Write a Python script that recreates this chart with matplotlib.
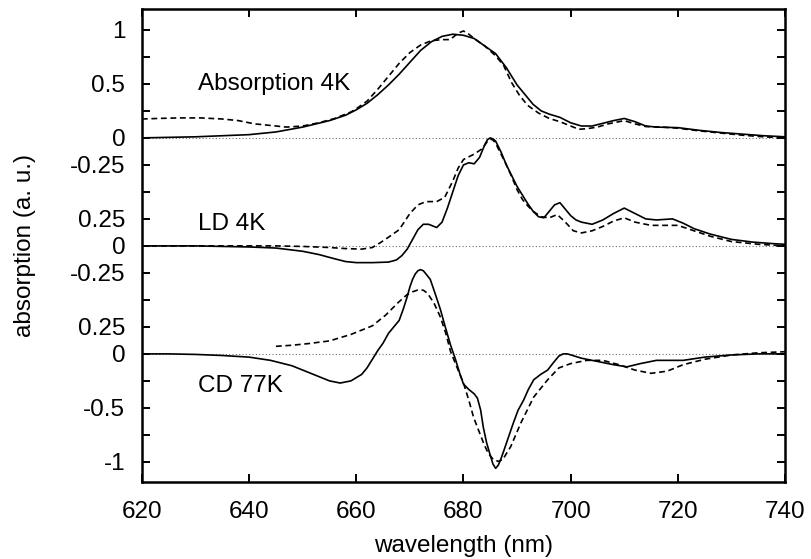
import numpy as np
import matplotlib
matplotlib.use('Agg')
import matplotlib.pyplot as plt

plt.rcParams['font.family'] = ['Liberation Sans', 'DejaVu Sans']

# Absorption 4K
abs_wl = [620, 625, 630, 635, 640, 645, 650, 655, 658, 660, 662, 664, 666, 668, 670,
          672, 674, 676, 678, 680, 682, 684, 686, 688, 689, 690, 691.5, 693, 694.5,
          696, 698, 700, 702, 704, 706, 708, 710, 712, 714, 716, 720, 724, 728, 732,
          736, 740]
abs_solid = [0.0, 0.005, 0.01, 0.02, 0.03, 0.055, 0.10, 0.16, 0.21, 0.26, 0.32, 0.40,
             0.49, 0.59, 0.70, 0.81, 0.89, 0.94, 0.96, 0.95, 0.92, 0.85, 0.78, 0.65,
             0.57, 0.49, 0.40, 0.31, 0.25, 0.22, 0.19, 0.14, 0.11, 0.11, 0.135, 0.16,
             0.18, 0.15, 0.11, 0.10, 0.095, 0.07, 0.05, 0.035, 0.02, 0.01]

abs_wl_d = [620, 623, 627, 631, 635, 638, 641, 644, 647, 650, 653, 656, 659, 660, 662,
            664, 666, 668, 670, 672, 674, 676, 677.5, 679, 680, 681, 682, 684, 686,
            687.5, 689, 690.5, 692, 694, 696, 698, 700, 701.5, 703, 705, 707, 710, 712,
            714, 717, 720, 724, 728, 732, 736, 740]
abs_dash = [0.175, 0.18, 0.185, 0.185, 0.175, 0.16, 0.13, 0.115, 0.10, 0.11, 0.14,
            0.18, 0.24, 0.27, 0.34, 0.45, 0.57, 0.69, 0.79, 0.86, 0.90, 0.91, 0.91,
            0.97, 0.99, 0.96, 0.92, 0.85, 0.76, 0.67, 0.51, 0.39, 0.30, 0.23, 0.18,
            0.15, 0.11, 0.08, 0.085, 0.10, 0.13, 0.16, 0.13, 0.105, 0.10, 0.09, 0.065,
            0.045, 0.025, 0.01, 0.0]

# LD 4K
ld_wl = [620, 625, 630, 635, 640, 645, 650, 653, 656, 658, 660, 663, 666, 667.5, 668.5,
         669.5, 670.5, 671.5, 672.5, 673.5, 675, 676, 677, 678, 679, 680, 681, 682, 683,
         684, 684.5, 685, 685.5, 686, 687, 688, 689, 690, 691, 692, 693, 694, 695, 696,
         697, 698, 699, 700, 701, 702, 704, 706, 708, 710, 712, 714, 716, 719, 721, 723,
         726, 730, 734, 738, 740]
ld_solid = [0.0, 0.0, 0.0, -0.005, -0.01, -0.02, -0.05, -0.08, -0.12, -0.145, -0.155,
            -0.155, -0.15, -0.13, -0.09, -0.03, 0.06, 0.15, 0.20, 0.20, 0.17, 0.22, 0.35,
            0.50, 0.65, 0.75, 0.77, 0.76, 0.82, 0.94, 0.985, 1.0, 0.99, 0.97, 0.87, 0.75,
            0.65, 0.55, 0.47, 0.39, 0.32, 0.27, 0.26, 0.32, 0.38, 0.40, 0.34, 0.28, 0.24,
            0.22, 0.20, 0.24, 0.30, 0.35, 0.30, 0.25, 0.24, 0.25, 0.21, 0.16, 0.11, 0.06,
            0.035, 0.02, 0.015]

ld_wl_d = [620, 630, 640, 645, 650, 655, 658, 661, 663, 664.5, 666, 668, 670, 671.5,
           673, 675, 676.5, 678, 679, 680, 682, 683.5, 684.5, 685, 685.5, 686, 687, 688,
           689, 690, 691, 692, 693, 694.5, 696, 697.5, 699, 700.5, 702, 704, 706, 708,
           710, 712, 715, 720, 723, 726, 730, 735, 740]
ld_dash = [0.0, 0.0, 0.0, 0.0, -0.005, -0.015, -0.025, -0.03, -0.015, 0.03, 0.08, 0.15,
           0.30, 0.38, 0.41, 0.41, 0.45, 0.60, 0.72, 0.80, 0.85, 0.90, 0.97, 0.99, 0.98,
           0.95, 0.85, 0.75, 0.64, 0.52, 0.43, 0.37, 0.32, 0.27, 0.26, 0.29, 0.22, 0.14,
           0.12, 0.14, 0.18, 0.23, 0.26, 0.22, 0.19, 0.19, 0.14, 0.09, 0.04, 0.015, 0.0]

# CD 77K
cd_wl = [620, 625, 630, 635, 640, 644, 648, 652, 655, 657, 659, 661, 662, 663, 664,
         665, 666, 667, 668, 668.8, 669.5, 670, 670.5, 671, 671.5, 672, 672.5, 673,
         673.8, 674.7, 675.7, 676.6, 677.6, 678.5, 679.3, 680, 681, 682, 682.6, 683.2,
         683.7, 684.3, 685, 685.5, 686, 686.5, 687, 687.5, 688.4, 689.3, 690.2, 691.2,
         692.1, 693.1, 694.4, 695.7, 696.8, 697.8, 698.6, 699.4, 702, 705, 708, 710.5,
         713, 716, 721, 725, 730, 735, 740]
cd_solid = [0.0, 0.0, -0.005, -0.015, -0.03, -0.06, -0.11, -0.19, -0.25, -0.27, -0.25,
            -0.19, -0.13, -0.05, 0.03, 0.10, 0.19, 0.25, 0.31, 0.42, 0.53, 0.62, 0.69,
            0.74, 0.77, 0.78, 0.77, 0.74, 0.69, 0.56, 0.41, 0.25, 0.08, -0.05, -0.18,
            -0.28, -0.33, -0.37, -0.41, -0.52, -0.68, -0.82, -0.94, -1.02, -1.06, -1.03,
            -0.97, -0.90, -0.77, -0.64, -0.52, -0.43, -0.33, -0.24, -0.19, -0.15, -0.08,
            -0.02, 0.0, 0.0, -0.04, -0.07, -0.10, -0.12, -0.09, -0.06, -0.06, -0.03, -0.01,
            0.0, 0.0]

cd_wl_d = [645, 648, 651, 655, 659, 663, 665.5, 667.7, 669.5, 670.5, 671.4, 672.5,
           673.3, 674.5, 675.7, 676.7, 677.6, 679, 680, 681, 681.9, 683.7, 684.6, 685.6,
           686.5, 687.3, 688.8, 690.7, 693.1, 695.7, 697.8, 700, 703, 706, 709, 712, 715,
           718, 721, 725, 730, 735, 740]
cd_dash = [0.07, 0.08, 0.095, 0.12, 0.18, 0.26, 0.36, 0.47, 0.55, 0.575, 0.59, 0.59,
           0.56, 0.47, 0.34, 0.19, 0.02, -0.15, -0.27, -0.43, -0.59, -0.82, -0.92, -0.98,
           -0.995, -0.98, -0.86, -0.64, -0.40, -0.24, -0.13, -0.09, -0.06, -0.06, -0.10,
           -0.15, -0.18, -0.16, -0.10, -0.05, -0.01, 0.01, 0.02]

# y tick labels (panels stacked with offsets 0, -1, -2)
ytick_pos = [1, 0.5, 0, -0.25, -0.75, -1, -1.25, -1.75, -2, -2.5, -3]
ytick_txt = ['1', '0.5', '0', '-0.25', '0.25', '0', '-0.25', '0.25', '0', '-0.5', '-1']

fig = plt.figure(figsize=(8.11, 5.59), dpi=100)
ax = fig.add_axes([0.175, 0.138, 0.793, 0.846])

lw = 1.2
dash = (0, (3.5, 2.2))
for off in [0, -1, -2]:
    ax.axhline(off, color='0.45', lw=0.8, ls=(0, (1, 2)), zorder=1)

ax.plot(abs_wl, np.array(abs_solid), color='k', lw=lw)
ax.plot(abs_wl_d, np.array(abs_dash), color='k', lw=lw, ls=dash)
ax.plot(ld_wl, np.array(ld_solid) - 1, color='k', lw=lw)
ax.plot(ld_wl_d, np.array(ld_dash) - 1, color='k', lw=lw, ls=dash)
ax.plot(cd_wl, np.array(cd_solid) - 2, color='k', lw=lw)
ax.plot(cd_wl_d, np.array(cd_dash) - 2, color='k', lw=lw, ls=dash)

ax.text(630.5, 0.5, 'Absorption 4K', fontsize=17.5, va='center')
ax.text(630.5, -0.8, 'LD 4K', fontsize=17.5, va='center')
ax.text(630.5, -2.3, 'CD 77K', fontsize=17.5, va='center')

ax.set_xlim(620, 740)
ax.set_ylim(-3.185, 1.194)
ax.set_xticks([620, 640, 660, 680, 700, 720, 740])
ax.set_yticks(np.arange(-3, 1.01, 0.25), minor=True)
ax.set_yticks(ytick_pos)
ax.set_yticklabels(ytick_txt)
ax.tick_params(direction='in', length=6, width=1.4, labelsize=17.5,
               top=True, right=True)
ax.tick_params(axis='x', pad=13.5)
ax.tick_params(axis='y', pad=12)
ax.tick_params(which='minor', direction='in', length=6, width=1.4, right=True)
for s in ax.spines.values():
    s.set_linewidth(1.8)

ax.set_xlabel('wavelength (nm)', fontsize=17.5, labelpad=9)
ax.set_ylabel('absorption (a. u.)', fontsize=17.5, labelpad=24)

plt.savefig('out.png', dpi=100)
